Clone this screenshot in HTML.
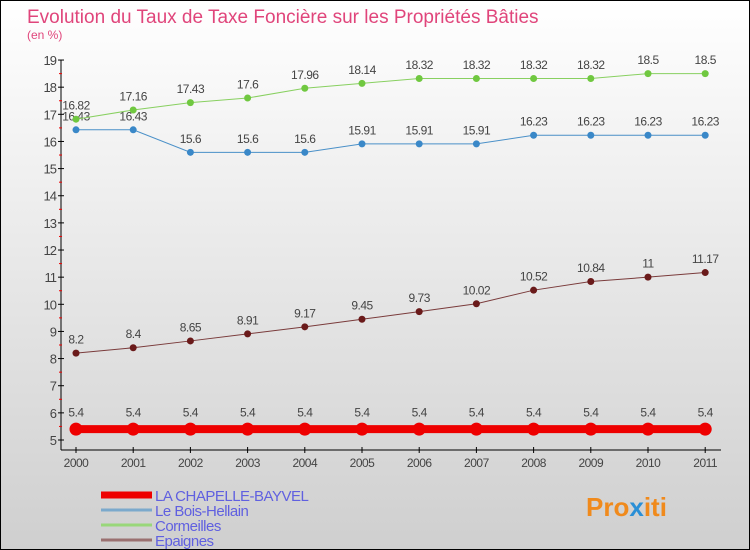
<!DOCTYPE html>
<html><head><meta charset="utf-8"><style>
body{margin:0}
#c{width:748px;height:548px;border:1px solid #000;background:linear-gradient(#fff,#cfcfcf);position:relative;overflow:hidden;font-family:"Liberation Sans",sans-serif}
</style></head><body>
<div id="c">
<svg id="s" width="748" height="548" xmlns="http://www.w3.org/2000/svg">
<text x="26" y="22" font-size="19" fill="#e0457b">Evolution du Taux de Taxe Foncière sur les Propriétés Bâties</text>
<text x="26" y="38" font-size="12" fill="#e0457b">(en %)</text>
<g id="g"></g>
<text x="585" y="515" font-size="26" font-weight="bold" fill="#f08a1c">Pro<tspan fill="#2a8fd6">x</tspan>iti</text>
</svg>
</div>
<script>
const years=["2000","2001","2002","2003","2004","2005","2006","2007","2008","2009","2010","2011"];
const chapelle=[5.4,5.4,5.4,5.4,5.4,5.4,5.4,5.4,5.4,5.4,5.4,5.4];
const bois=[16.43,16.43,15.6,15.6,15.6,15.91,15.91,15.91,16.23,16.23,16.23,16.23];
const corm=[16.82,17.16,17.43,17.6,17.96,18.14,18.32,18.32,18.32,18.32,18.5,18.5];
const epai=[8.2,8.4,8.65,8.91,9.17,9.45,9.73,10.02,10.52,10.84,11,11.17];
const yTicks=[5,6,7,8,9,10,11,12,13,14,15,16,17,18,19];
const names=["LA CHAPELLE-BAYVEL","Le Bois-Hellain","Cormeilles","Epaignes"];
const NS="http://www.w3.org/2000/svg";
const g=document.getElementById('g');
const X=i=>75+i*57.2;
const Y=v=>439-(v-5)*27.14;
function el(t,a,txt){const e=document.createElementNS(NS,t);for(const k in a)e.setAttribute(k,a[k]);if(txt!==undefined)e.textContent=txt;g.appendChild(e);return e;}
let ax=el('line',{x1:60,y1:Y(19),x2:60,y2:449,stroke:'#000'});


let xa=el('line',{x1:60,y1:449,x2:720,y2:449,stroke:'#000'});


yTicks.forEach(v=>{
 el('line',{x1:57,y1:Y(v),x2:63,y2:Y(v),stroke:'#000'});
 if(v<19)el('line',{x1:58,y1:Y(v+0.5),x2:61,y2:Y(v+0.5),stroke:'#e00'});
 const t=el('text',{x:55,y:Y(v)+5,'font-size':13,fill:'#444','text-anchor':'end','letter-spacing':'-1'},v);
 
 
});
years.forEach((y,i)=>{
 el('line',{x1:X(i),y1:446,x2:X(i),y2:452,stroke:'#000'});
 const t=el('text',{x:X(i),y:466,'font-size':12,fill:'#444','text-anchor':'middle','letter-spacing':'-0.5'},y);
 
 
});
function series(data,color,dot,w,r,name){
 const p=el('polyline',{points:data.map((v,i)=>X(i)+','+Y(v)).join(' '),fill:'none',stroke:color,'stroke-width':w});
 
 
 data.forEach((v,i)=>{
  const c=el('circle',{cx:X(i),cy:Y(v),r:r,fill:dot});
  
  
  const t=el('text',{x:X(i),y:Y(v)-(r+6),'font-size':12,fill:'#444','text-anchor':'middle','letter-spacing':'-0.5'},v);
  
  
 });
}
series(epai,'#7a3b3b','#6a1a1a',1,3.5,'epaignes');
series(bois,'#4a90c8','#3a88c8',1,3.5,'bois-hellain');
series(corm,'#88d060','#70c840',1,3.5,'cormeilles');
series(chapelle,'#ee0000','#ee0000',8,6.5,'chapelle-bayvel');
const lc=['#ee0000','#7ba9cc','#99d77a','#9a7070'];
const lw=[7,3,3,3];
names.forEach((n,i)=>{
 const yy=494+i*15;
 const l=el('line',{x1:100,y1:yy,x2:151,y2:yy,stroke:lc[i],'stroke-width':lw[i]});
 
 
 const t=el('text',{x:154,y:yy+6,'font-size':15,fill:'#6060e0','letter-spacing':'-0.5'},n);
 
 
});
</script>
</body></html>
